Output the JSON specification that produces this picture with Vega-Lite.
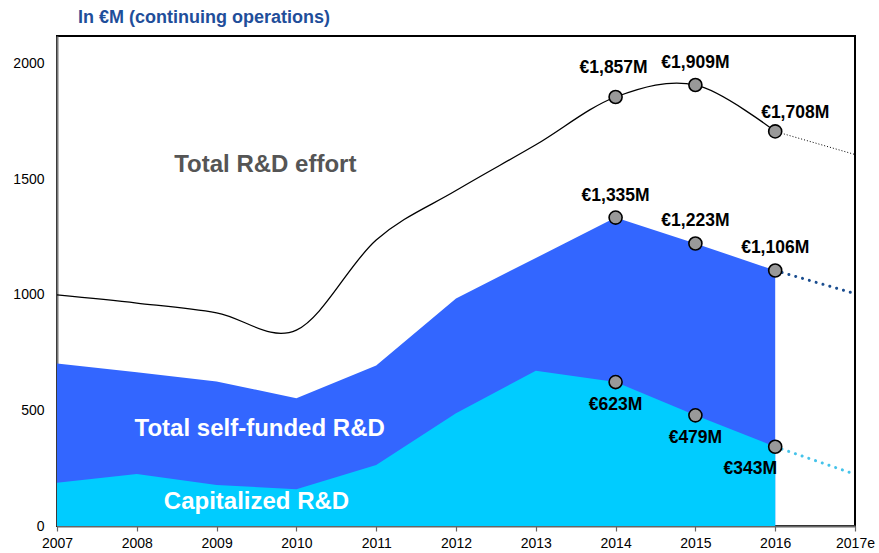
{
  "$schema": "https://vega.github.io/schema/vega-lite/v6.json",
  "width": 798,
  "height": 490,
  "autosize": {"type": "none"},
  "padding": {"left": 57, "top": 36, "right": 24, "bottom": 27},
  "config": {"font": "Liberation Sans", "view": {"stroke": "black", "strokeWidth": 2}},
  "title": {"text": "In €M (continuing operations)", "anchor": "start", "frame": "group", "dx": 21, "offset": 9, "fontSize": 18, "fontWeight": "bold", "color": "#1f4e9a", "font": "Liberation Sans"},
  "datasets": {
    "rd": [
      {"year": 2007, "series": "total", "value": 1000},
      {"year": 2008, "series": "total", "value": 965},
      {"year": 2009, "series": "total", "value": 923},
      {"year": 2010, "series": "total", "value": 848},
      {"year": 2011, "series": "total", "value": 1238},
      {"year": 2012, "series": "total", "value": 1452},
      {"year": 2013, "series": "total", "value": 1650},
      {"year": 2014, "series": "total", "value": 1857},
      {"year": 2015, "series": "total", "value": 1909},
      {"year": 2016, "series": "total", "value": 1708},
      {"year": 2017, "series": "total", "value": 1608},
      {"year": 2007, "series": "self", "value": 703},
      {"year": 2008, "series": "self", "value": 665},
      {"year": 2009, "series": "self", "value": 626},
      {"year": 2010, "series": "self", "value": 553},
      {"year": 2011, "series": "self", "value": 695},
      {"year": 2012, "series": "self", "value": 985},
      {"year": 2013, "series": "self", "value": 1160},
      {"year": 2014, "series": "self", "value": 1335},
      {"year": 2015, "series": "self", "value": 1223},
      {"year": 2016, "series": "self", "value": 1106},
      {"year": 2017, "series": "self", "value": 1006},
      {"year": 2007, "series": "cap", "value": 187},
      {"year": 2008, "series": "cap", "value": 225},
      {"year": 2009, "series": "cap", "value": 178},
      {"year": 2010, "series": "cap", "value": 159},
      {"year": 2011, "series": "cap", "value": 264},
      {"year": 2012, "series": "cap", "value": 488},
      {"year": 2013, "series": "cap", "value": 672},
      {"year": 2014, "series": "cap", "value": 623},
      {"year": 2015, "series": "cap", "value": 479},
      {"year": 2016, "series": "cap", "value": 343},
      {"year": 2017, "series": "cap", "value": 224}
    ],
    "notes": [
      {"year": 2009.61, "value": 1563, "text": "Total R&D effort", "kind": "gray"},
      {"year": 2009.54, "value": 420, "text": "Total self-funded R&D", "kind": "white"},
      {"year": 2009.5, "value": 104, "text": "Capitalized R&D", "kind": "white"}
    ]
  },
  "encoding": {
    "x": {"field": "year", "type": "quantitative", "scale": {"domain": [2007, 2017], "nice": false, "zero": false},
      "axis": {"values": [2007, 2008, 2009, 2010, 2011, 2012, 2013, 2014, 2015, 2016, 2017], "format": "d", "labelExpr": "datum.value == 2017 ? '2017e' : datum.label", "title": null, "grid": false, "tickSize": 5, "tickColor": "#666", "tickWidth": 1.2, "domainColor": "#666", "domainWidth": 2, "labelFontSize": 14, "labelColor": "black", "labelPadding": 5, "labelFlush": false}},
    "y": {"field": "value", "type": "quantitative", "scale": {"domain": [0, 2121], "nice": false},
      "axis": {"values": [0, 500, 1000, 1500, 2000], "format": "d", "title": null, "grid": false, "ticks": false, "labelPadding": 13, "domainColor": "#777", "domainWidth": 2, "labelFontSize": 14, "labelColor": "black"}}
  },
  "layer": [
    {"data": {"name": "rd"}, "transform": [{"filter": "datum.series == 'self' && datum.year <= 2016"}],
      "mark": {"type": "area", "color": "#3366ff"}},
    {"data": {"name": "rd"}, "transform": [{"filter": "datum.series == 'cap' && datum.year <= 2016"}],
      "mark": {"type": "area", "color": "#00ccff"}},
    {"data": {"name": "rd"}, "transform": [{"filter": "datum.series == 'total' && datum.year >= 2016"}],
      "mark": {"type": "line", "color": "black", "strokeWidth": 1, "strokeDash": [1, 2]}},
    {"data": {"name": "rd"}, "transform": [{"filter": "datum.series == 'self' && datum.year >= 2016"}],
      "mark": {"type": "line", "color": "#1a4d8f", "strokeWidth": 3, "strokeDash": [0.1, 7], "strokeCap": "round"}},
    {"data": {"name": "rd"}, "transform": [{"filter": "datum.series == 'cap' && datum.year >= 2016"}],
      "mark": {"type": "line", "color": "#45c3ea", "strokeWidth": 3, "strokeDash": [0.1, 7], "strokeCap": "round"}},
    {"data": {"name": "rd"}, "transform": [{"filter": "datum.series == 'total' && datum.year <= 2016"}],
      "mark": {"type": "line", "color": "black", "strokeWidth": 1.3, "interpolate": "cardinal"}},
    {"data": {"name": "rd"}, "transform": [{"filter": "datum.year >= 2014 && datum.year <= 2016"}],
      "mark": {"type": "point", "shape": "circle", "filled": true, "fill": "#999999", "stroke": "black", "strokeWidth": 1.6, "size": 170, "opacity": 1}},
    {"data": {"name": "rd"}, "transform": [{"filter": "datum.series != 'cap' && datum.year >= 2014 && datum.year <= 2016 && !(datum.series == 'total' && datum.year != 2015)"}, {"calculate": "'€' + format(datum.value, ',') + 'M'", "as": "label"}],
      "mark": {"type": "text", "fontSize": 17.5, "fontWeight": "bold", "color": "black", "baseline": "middle", "dy": -22},
      "encoding": {"text": {"field": "label"}}},
    {"data": {"name": "rd"}, "transform": [{"filter": "datum.series == 'total' && datum.year == 2014"}, {"calculate": "'€' + format(datum.value, ',') + 'M'", "as": "label"}],
      "mark": {"type": "text", "fontSize": 17.5, "fontWeight": "bold", "color": "black", "baseline": "middle", "dy": -29, "dx": -2},
      "encoding": {"text": {"field": "label"}}},
    {"data": {"name": "rd"}, "transform": [{"filter": "datum.series == 'total' && datum.year == 2016"}, {"calculate": "'€' + format(datum.value, ',') + 'M'", "as": "label"}],
      "mark": {"type": "text", "fontSize": 17.5, "fontWeight": "bold", "color": "black", "baseline": "middle", "dy": -18, "dx": 20},
      "encoding": {"text": {"field": "label"}}},
    {"data": {"name": "rd"}, "transform": [{"filter": "datum.series == 'cap' && datum.year >= 2014 && datum.year <= 2015"}, {"calculate": "'€' + format(datum.value, ',') + 'M'", "as": "label"}],
      "mark": {"type": "text", "fontSize": 17.5, "fontWeight": "bold", "color": "black", "baseline": "middle", "dy": 23},
      "encoding": {"text": {"field": "label"}}},
    {"data": {"name": "rd"}, "transform": [{"filter": "datum.series == 'cap' && datum.year == 2016"}, {"calculate": "'€' + format(datum.value, ',') + 'M'", "as": "label"}],
      "mark": {"type": "text", "fontSize": 17.5, "fontWeight": "bold", "color": "black", "baseline": "middle", "dy": 22, "dx": -25},
      "encoding": {"text": {"field": "label"}}},
    {"data": {"name": "notes"},
      "mark": {"type": "text", "fontSize": 24, "fontWeight": "bold", "baseline": "middle"},
      "encoding": {"text": {"field": "text"}, "color": {"field": "kind", "type": "nominal", "scale": {"domain": ["gray", "white"], "range": ["#555555", "#ffffff"]}, "legend": null}}}
  ]
}
